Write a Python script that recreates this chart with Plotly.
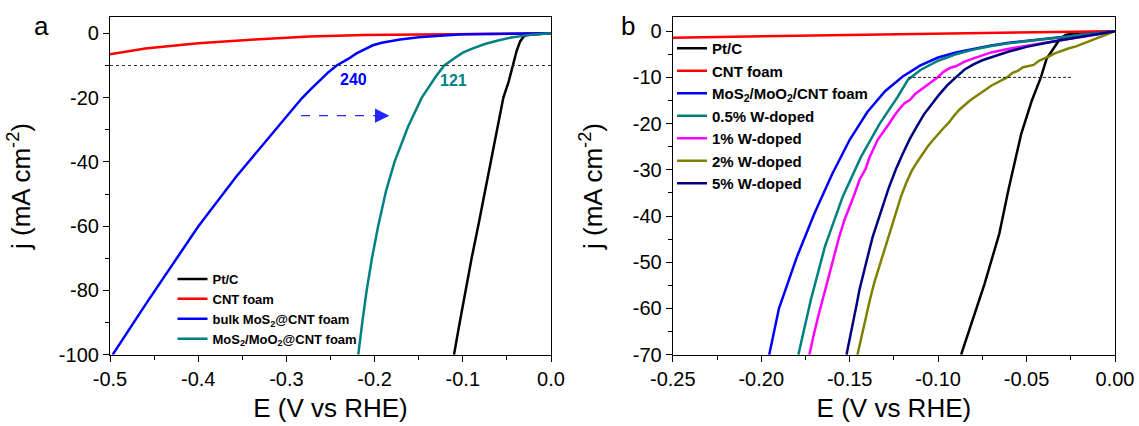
import plotly.graph_objects as go

# ---------------- Panel a data ----------------
a_ptc_E = [0, -0.01, -0.02, -0.027, -0.031, -0.035, -0.039, -0.043, -0.048, -0.054, -0.061, -0.068, -0.0755, -0.0826, -0.090, -0.097, -0.1035, -0.110]
a_ptc_j = [0, -0.1, -0.25, -0.5, -1.0, -2.5, -5.5, -10, -15, -20, -30, -40, -50, -60, -70, -80, -90, -100]

a_cnt_E = [0, -0.13, -0.212, -0.274, -0.336, -0.40, -0.46, -0.50]
a_cnt_j = [0, -0.2, -0.5, -1.0, -1.9, -3.1, -4.7, -6.5]

a_bulk_E = [0, -0.05, -0.10, -0.13, -0.15, -0.171, -0.192, -0.202, -0.212, -0.221, -0.229, -0.236, -0.243, -0.252, -0.262, -0.272, -0.2825, -0.300, -0.314, -0.328, -0.357, -0.400, -0.435, -0.460, -0.497]
a_bulk_j = [0, -0.1, -0.3, -0.8, -1.2, -1.9, -2.9, -3.7, -5.0, -6.3, -7.8, -8.9, -10.0, -12.0, -14.5, -17.3, -20.2, -25.9, -30.6, -35.3, -44.6, -60.1, -74.3, -84.5, -100]

a_mos_E = [0, -0.01, -0.02, -0.03, -0.045, -0.06, -0.075, -0.09, -0.10, -0.11, -0.121, -0.13, -0.1465, -0.162, -0.1774, -0.187, -0.196, -0.203, -0.209, -0.214, -0.2185]
a_mos_j = [0, -0.15, -0.35, -0.7, -1.3, -2.2, -3.3, -4.8, -6.0, -7.8, -10, -13.2, -20, -29, -40, -49, -60, -70, -80, -90, -100]

a_names = ["Pt/C", "CNT foam", "bulk MoS<sub>2</sub>@CNT foam", "MoS<sub>2</sub>/MoO<sub>2</sub>@CNT foam"]
a_colors = ["#000000", "#ff0000", "#0000ff", "#008080"]

a_xticks = [-0.5, -0.4, -0.3, -0.2, -0.1, 0.0]
a_xticklabels = ["-0.5", "-0.4", "-0.3", "-0.2", "-0.1", "0.0"]
a_yticks = [-100, -80, -60, -40, -20, 0]
a_yticklabels = ["-100", "-80", "-60", "-40", "-20", "0"]

a_ref_j = -10
a_labels = ["240", "121"]
a_label_E = [-0.2242, -0.110]
a_label_j = [-14.2, -14.7]
a_arrow_E = [-0.2834, -0.1833]
a_arrow_j = -25.6

# ---------------- Panel b data ----------------
b_ptc_E = [0, -0.01, -0.02, -0.028, -0.0315, -0.0387, -0.0418, -0.047, -0.053, -0.0603, -0.0654, -0.0737, -0.080, -0.087]
b_ptc_j = [0, -0.1, -0.3, -0.8, -1.9, -6.0, -9.9, -15.0, -22.2, -34.4, -43.8, -54.6, -62.0, -70.0]

b_cnt_E = [-0.25, -0.20, -0.15, -0.10, -0.05, 0]
b_cnt_j = [-1.4, -1.15, -0.9, -0.6, -0.3, 0]

b_mos_E = [0, -0.01, -0.02, -0.03, -0.04, -0.05, -0.06, -0.07, -0.08, -0.09, -0.10, -0.11, -0.12, -0.13, -0.14, -0.15, -0.16, -0.17, -0.18, -0.19, -0.1955]
b_mos_j = [0, -0.4, -0.8, -1.2, -1.6, -2.0, -2.5, -3.1, -3.8, -4.6, -5.7, -7.4, -9.8, -13.0, -17.5, -23.5, -31.0, -39.5, -49.0, -60.0, -70.0]

b_w05_E = [0, -0.01, -0.02, -0.03, -0.04, -0.05, -0.06, -0.07, -0.08, -0.09, -0.10, -0.11, -0.117, -0.123, -0.133, -0.1436, -0.154, -0.164, -0.172, -0.179]
b_w05_j = [0, -0.5, -0.9, -1.3, -1.7, -2.1, -2.6, -3.2, -4.0, -5.0, -6.4, -8.4, -10.5, -14.3, -20.0, -27.2, -35.9, -46.6, -58.2, -70.0]

b_w1_E = [0, -0.005, -0.01, -0.015, -0.02, -0.03, -0.04, -0.05, -0.06, -0.07, -0.075, -0.08, -0.085, -0.09, -0.093, -0.097, -0.100, -0.104, -0.107, -0.110, -0.113, -0.116, -0.119, -0.122, -0.125, -0.128, -0.131, -0.134, -0.136, -0.139, -0.141, -0.1445, -0.147, -0.150, -0.153, -0.156, -0.159, -0.162, -0.165, -0.168, -0.1705, -0.1728]
b_w1_j = [0, -0.4, -0.7, -1.0, -1.3, -1.9, -2.5, -3.1, -3.8, -4.6, -5.2, -5.9, -6.6, -7.6, -7.9, -8.8, -9.9, -11.0, -11.9, -12.6, -13.6, -14.9, -15.6, -16.9, -18.4, -20.2, -21.8, -23.4, -25.0, -27.5, -29.8, -32.2, -35.0, -37.8, -40.9, -44.6, -48.8, -53.0, -57.5, -62.0, -66.0, -70.0]

b_w2_E = [0, -0.002, -0.004, -0.008, -0.012, -0.015, -0.018, -0.022, -0.026, -0.03, -0.034, -0.037, -0.040, -0.043, -0.046, -0.049, -0.052, -0.055, -0.058, -0.061, -0.064, -0.067, -0.070, -0.073, -0.076, -0.079, -0.082, -0.085, -0.088, -0.091, -0.094, -0.097, -0.100, -0.103, -0.106, -0.109, -0.112, -0.115, -0.118, -0.121, -0.124, -0.127, -0.130, -0.133, -0.136, -0.1385, -0.1405, -0.1425, -0.144, -0.1456]
b_w2_j = [0, -0.3, -0.6, -1.2, -1.7, -2.3, -2.7, -3.3, -3.7, -4.2, -4.8, -5.4, -5.9, -6.4, -7.3, -7.6, -7.8, -8.6, -9.0, -10.0, -10.6, -11.3, -11.8, -12.6, -13.5, -14.2, -15.0, -16.0, -17.0, -18.3, -19.8, -21.0, -22.2, -23.6, -25.0, -26.6, -28.4, -30.3, -32.8, -35.8, -39.5, -43.2, -46.8, -50.5, -54.3, -58.0, -61.5, -64.8, -67.5, -70.0]

b_w5_E = [0, -0.01, -0.02, -0.03, -0.04, -0.05, -0.06, -0.065, -0.07, -0.075, -0.08, -0.085, -0.09, -0.095, -0.100, -0.104, -0.108, -0.112, -0.116, -0.120, -0.124, -0.128, -0.131, -0.134, -0.137, -0.139, -0.141, -0.143, -0.1445, -0.146, -0.1475, -0.149, -0.150, -0.1518]
b_w5_j = [0, -0.6, -1.2, -1.9, -2.6, -3.4, -4.4, -5.0, -5.6, -6.3, -7.2, -8.3, -10.0, -11.8, -14.0, -15.9, -18.0, -20.6, -23.3, -26.5, -30.0, -34.0, -37.5, -41.0, -44.5, -47.5, -50.5, -53.5, -56.0, -59.0, -62.0, -64.5, -67.0, -70.0]

b_names = ["Pt/C", "CNT foam", "MoS<sub>2</sub>/MoO<sub>2</sub>/CNT foam", "0.5% W-doped", "1% W-doped", "2% W-doped", "5% W-doped"]
b_colors = ["#000000", "#ff0000", "#0000ff", "#008080", "#ff00ff", "#808000", "#000080"]

b_xticks = [-0.25, -0.20, -0.15, -0.10, -0.05, 0.00]
b_xticklabels = ["-0.25", "-0.20", "-0.15", "-0.10", "-0.05", "0.00"]
b_yticks = [-70, -60, -50, -40, -30, -20, -10, 0]
b_yticklabels = ["-70", "-60", "-50", "-40", "-30", "-20", "-10", "0"]

b_ref_j = -10
b_ref_E = [-0.117, -0.0247]

# ---------------- Figure ----------------
FONT = "Arial, 'Liberation Sans', sans-serif"
W, H = 1139, 426
fig = go.Figure()

a_data = [(a_ptc_E, a_ptc_j), (a_cnt_E, a_cnt_j), (a_bulk_E, a_bulk_j), (a_mos_E, a_mos_j)]
for (xs, ys), name, col in zip(a_data, a_names, a_colors):
    fig.add_trace(go.Scatter(x=xs, y=ys, mode="lines", name=name,
                             line=dict(color=col, width=2.5),
                             xaxis="x", yaxis="y", legend="legend"))

b_data = [(b_ptc_E, b_ptc_j), (b_cnt_E, b_cnt_j), (b_mos_E, b_mos_j), (b_w05_E, b_w05_j),
          (b_w1_E, b_w1_j), (b_w2_E, b_w2_j), (b_w5_E, b_w5_j)]
for (xs, ys), name, col in zip(b_data, b_names, b_colors):
    fig.add_trace(go.Scatter(x=xs, y=ys, mode="lines", name=name,
                             line=dict(color=col, width=2.5),
                             xaxis="x2", yaxis="y2", legend="legend2"))

ydom = [1 - 354.7 / H, 1 - 17.3 / H]
axis_common = dict(showline=True, linecolor="black", linewidth=1.2, mirror=True,
                   ticks="outside", ticklen=6, tickwidth=1.2, tickcolor="black",
                   showgrid=False, zeroline=False, automargin=False,
                   tickfont=dict(family=FONT, size=20, color="black"))
minor_common = dict(ticks="outside", ticklen=4, tickwidth=1.2, tickcolor="black", showgrid=False)
title_font = dict(family=FONT, size=26, color="black")

fig.update_layout(
    width=W, height=H,
    margin=dict(l=0, r=0, t=0, b=0),
    paper_bgcolor="white", plot_bgcolor="white",
    font=dict(family=FONT, color="black"),
    xaxis=dict(domain=[110 / W, 551 / W], range=[-0.5, 0.0], anchor="y",
               tickvals=a_xticks, ticktext=a_xticklabels,
               title=dict(text="E (V vs RHE)", font=title_font, standoff=10),
               minor=dict(minor_common, dtick=0.05), **axis_common),
    yaxis=dict(domain=ydom, range=[-100, 5], anchor="x",
               tickvals=a_yticks, ticktext=a_yticklabels,
               title=dict(text="j (mA cm<sup>-2</sup>)", font=title_font, standoff=20),
               minor=dict(minor_common, dtick=10), **axis_common),
    xaxis2=dict(domain=[672.8 / W, 1115 / W], range=[-0.25, 0.0], anchor="y2",
                tickvals=b_xticks, ticktext=b_xticklabels,
                title=dict(text="E (V vs RHE)", font=title_font, standoff=10),
                minor=dict(minor_common, dtick=0.025), **axis_common),
    yaxis2=dict(domain=ydom, range=[-70, 3], anchor="x2",
                tickvals=b_yticks, ticktext=b_yticklabels,
                title=dict(text="j (mA cm<sup>-2</sup>)", font=title_font, standoff=22),
                minor=dict(minor_common, dtick=5), **axis_common),
    legend=dict(x=172.5 / W, y=1 - 264 / H, xanchor="left", yanchor="top",
                bgcolor="rgba(0,0,0,0)", borderwidth=0,
                font=dict(family=FONT, size=13, color="black", weight="bold")),
    legend2=dict(x=672 / W, y=1 - 32 / H, xanchor="left", yanchor="top",
                 bgcolor="rgba(0,0,0,0)", borderwidth=0,
                 font=dict(family=FONT, size=15, color="black", weight="bold")),
    showlegend=True,
)

# reference lines at -10 mA cm-2
fig.add_shape(type="line", xref="x", yref="y", x0=-0.5, x1=0.0, y0=a_ref_j, y1=a_ref_j,
              line=dict(color="#333333", width=1, dash="dot"))
fig.add_shape(type="line", xref="x2", yref="y2", x0=b_ref_E[0], x1=b_ref_E[1], y0=b_ref_j, y1=b_ref_j,
              line=dict(color="#222222", width=1, dash="3px,2px"))

# dashed arrow
fig.add_shape(type="line", xref="x", yref="y", x0=a_arrow_E[0], x1=a_arrow_E[1] - 0.008,
              y0=a_arrow_j, y1=a_arrow_j, line=dict(color="#2424ff", width=1.3, dash="dash"))
fig.add_annotation(x=a_arrow_E[1], y=a_arrow_j, ax=a_arrow_E[1] - 0.012, ay=a_arrow_j,
                   xref="x", yref="y", axref="x", ayref="y", text="", showarrow=True,
                   arrowhead=2, arrowsize=2.2, arrowwidth=1.3, arrowcolor="#2424ff")

# overpotential labels
for txt, ex, jy, col in zip(a_labels, a_label_E, a_label_j, ["#0000ff", "#008080"]):
    fig.add_annotation(x=ex, y=jy, xref="x", yref="y", text=txt, showarrow=False,
                       font=dict(family=FONT, size=16, color=col, weight="bold"))

# panel letters
fig.add_annotation(x=41.8 / W, y=1 - 26.5 / H, xref="paper", yref="paper", text="a",
                   xanchor="center", yanchor="middle",
                   showarrow=False, font=dict(family=FONT, size=26, color="black"))
fig.add_annotation(x=627.5 / W, y=1 - 26 / H, xref="paper", yref="paper", text="b",
                   xanchor="center", yanchor="middle",
                   showarrow=False, font=dict(family=FONT, size=26, color="black"))

fig.write_html("out.html")
